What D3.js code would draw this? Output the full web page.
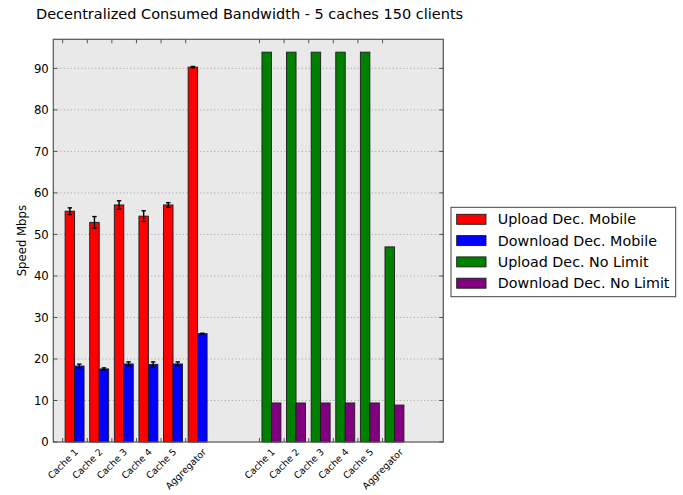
<!DOCTYPE html>
<html>
<head>
<meta charset="utf-8">
<script src="https://cdn.jsdelivr.net/npm/d3@7"></script>
<style>
  html, body { margin: 0; padding: 0; background: #ffffff; }
  svg { display: block; font-family: "DejaVu Sans", sans-serif; }
</style>
</head>
<body>
<svg id="chart" width="683" height="495"></svg>
<script>
// Bandwidth per node, Mbps
const categories = ["Cache 1", "Cache 2", "Cache 3", "Cache 4", "Cache 5", "Aggregator"];
const uploadMobile = [55.6, 52.9, 57.1, 54.4, 57.1, 90.3];
const uploadMobileErr = [0.8, 1.4, 1.0, 1.3, 0.55, 0.15];
const downloadMobile = [18.3, 17.6, 18.8, 18.7, 18.8, 26.1];
const downloadMobileErr = [0.45, 0.25, 0.5, 0.6, 0.5, 0.1];
const uploadNoLimit = [93.9, 93.9, 93.9, 93.9, 93.9, 47.0];
const downloadNoLimit = [9.4, 9.4, 9.4, 9.4, 9.4, 8.9];
const yTicks = [0, 10, 20, 30, 40, 50, 60, 70, 80, 90];
const seriesNames = ["Upload Dec. Mobile", "Download Dec. Mobile", "Upload Dec. No Limit", "Download Dec. No Limit"];
const seriesColors = ["#ff0000", "#0000ff", "#008000", "#800080"];

// Two groups of positions: 0..5 for the mobile runs, 8..13 for the unlimited runs
const groups = [
  { offset: 0, up: uploadMobile, upErr: uploadMobileErr, down: downloadMobile, downErr: downloadMobileErr, colors: [seriesColors[0], seriesColors[1]] },
  { offset: 8, up: uploadNoLimit, upErr: null, down: downloadNoLimit, downErr: null, colors: [seriesColors[2], seriesColors[3]] }
];

const svg = d3.select("#chart");
const plot = { left: 53.3, right: 443.3, top: 39.3, bottom: 442 };

const x = d3.scaleLinear().domain([-0.38, 15.47]).range([plot.left, plot.right]);
const y = d3.scaleLinear().domain([0, 97]).range([plot.bottom, plot.top]);

// Plot background
svg.append("rect")
  .attr("x", plot.left).attr("y", plot.top)
  .attr("width", plot.right - plot.left).attr("height", plot.bottom - plot.top)
  .attr("fill", "#e9e9e9");

// Horizontal dotted grid
svg.append("g").selectAll("line").data(yTicks.filter(d => d > 0)).join("line")
  .attr("x1", plot.left).attr("x2", plot.right)
  .attr("y1", d => y(d)).attr("y2", d => y(d))
  .attr("stroke", "#8c8c8c").attr("stroke-width", 0.8)
  .attr("stroke-dasharray", "1,2.5");

// Bars
const barOff = 0.1, barW = 0.385;
groups.forEach(g => {
  const gEl = svg.append("g");
  const bars = [];
  categories.forEach((c, i) => {
    const pos = g.offset + i;
    bars.push({ x0: pos + barOff, v: g.up[i], e: g.upErr ? g.upErr[i] : null, color: g.colors[0] });
    bars.push({ x0: pos + barOff + barW, v: g.down[i], e: g.downErr ? g.downErr[i] : null, color: g.colors[1] });
  });
  gEl.selectAll("rect").data(bars).join("rect")
    .attr("x", d => x(d.x0))
    .attr("y", d => y(d.v))
    .attr("width", d => x(d.x0 + barW) - x(d.x0))
    .attr("height", d => y(0) - y(d.v))
    .attr("fill", d => d.color)
    .attr("stroke", "#1a1a1a").attr("stroke-width", 0.9);

  const errs = bars.filter(d => d.e !== null);
  const eg = gEl.append("g").attr("stroke", "#000").attr("stroke-width", 1.4);
  errs.forEach(d => {
    const cx = x(d.x0 + barW / 2);
    eg.append("line").attr("x1", cx).attr("x2", cx).attr("y1", y(d.v - d.e)).attr("y2", y(d.v + d.e));
    [d.v - d.e, d.v + d.e].forEach(v => {
      eg.append("line").attr("x1", cx - 2.2).attr("x2", cx + 2.2).attr("y1", y(v)).attr("y2", y(v));
    });
  });
});

// Frame
svg.append("rect")
  .attr("x", plot.left).attr("y", plot.top)
  .attr("width", plot.right - plot.left).attr("height", plot.bottom - plot.top)
  .attr("fill", "none").attr("stroke", "#555").attr("stroke-width", 1.2);

// Inward tick marks on all four sides
const tickPositions = [];
groups.forEach(g => categories.forEach((c, i) => tickPositions.push({ pos: g.offset + i, label: c })));
const tk = svg.append("g").attr("stroke", "#444").attr("stroke-width", 0.9);
tickPositions.forEach(t => {
  const tx = x(t.pos);
  tk.append("line").attr("x1", tx).attr("x2", tx).attr("y1", plot.bottom).attr("y2", plot.bottom - 4);
  tk.append("line").attr("x1", tx).attr("x2", tx).attr("y1", plot.top).attr("y2", plot.top + 4);
});
yTicks.forEach(v => {
  tk.append("line").attr("x1", plot.left).attr("x2", plot.left + 4).attr("y1", y(v)).attr("y2", y(v));
  tk.append("line").attr("x1", plot.right).attr("x2", plot.right - 4).attr("y1", y(v)).attr("y2", y(v));
});

// Y tick labels
svg.append("g").selectAll("text").data(yTicks).join("text")
  .attr("x", plot.left - 4.5).attr("y", d => y(d))
  .attr("dy", "0.36em")
  .attr("text-anchor", "end")
  .attr("font-size", 11.7).attr("fill", "#000")
  .text(d => d);

// X tick labels rotated 45 degrees, centred on each tick
const fs = 9.4;
const xl = svg.append("g");
tickPositions.forEach(t => {
  const txt = xl.append("text")
    .attr("text-anchor", "middle")
    .attr("dominant-baseline", "central")
    .attr("font-size", fs).attr("fill", "#000")
    .text(t.label);
  const w = txt.node().getComputedTextLength();
  const h = fs * 1.1;
  const H = (w + h) / Math.SQRT2;
  txt.attr("transform", `translate(${x(t.pos)},${plot.bottom + 4.5 + H / 2}) rotate(-45)`);
});

// Y axis label
svg.append("text")
  .attr("transform", `translate(26,${(plot.top + plot.bottom) / 2}) rotate(-90)`)
  .attr("text-anchor", "middle")
  .attr("font-size", 11.7).attr("fill", "#000")
  .text("Speed Mbps");

// Title
svg.append("text")
  .attr("x", 36).attr("y", 19)
  .attr("font-size", 14.5).attr("fill", "#000")
  .text("Decentralized Consumed Bandwidth - 5 caches 150 clients");

// Legend
const lg = svg.append("g");
lg.append("rect")
  .attr("x", 451).attr("y", 207.3).attr("width", 224.7).attr("height", 89.4)
  .attr("fill", "#fff").attr("stroke", "#444").attr("stroke-width", 1);
seriesNames.forEach((name, i) => {
  const cy = 219.3 + i * 21.3;
  lg.append("rect")
    .attr("x", 456.7).attr("y", cy - 5).attr("width", 29.3).attr("height", 10)
    .attr("fill", seriesColors[i]).attr("stroke", "#1a1a1a").attr("stroke-width", 0.9);
  lg.append("text")
    .attr("x", 497.7).attr("y", cy).attr("dy", "0.36em")
    .attr("font-size", 14.3).attr("fill", "#000")
    .text(name);
});
</script>
</body>
</html>
